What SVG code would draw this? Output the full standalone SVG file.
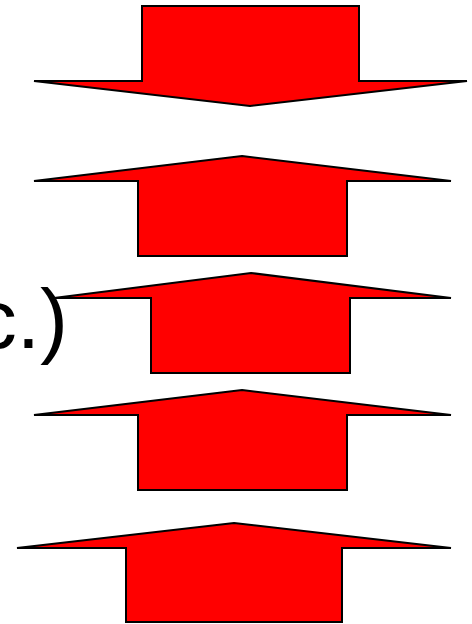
<svg xmlns="http://www.w3.org/2000/svg" width="472" height="624" viewBox="0 0 472 624">
<style>
.arrow{fill:#FF0000;stroke:#000;stroke-width:2;stroke-linejoin:miter}
.lbl{font-family:"Liberation Sans",Arial,sans-serif;font-size:84px;fill:#000}
</style>
<rect width="472" height="624" fill="#fff"/>
<g id="label"><text class="lbl" x="68" y="348" text-anchor="end">c.)</text></g>
<g id="arrow1"><polygon class="arrow" points="142,6 359,6 359,81 467,81 250,106 34,81 142,81"/></g>
<g id="arrow2"><polygon class="arrow" points="242,156 451,181 347,181 347,256 138,256 138,181 34,181"/></g>
<g id="arrow3"><polygon class="arrow" points="251,273 451,298 350,298 350,373 151,373 151,298 54,298"/></g>
<g id="arrow4"><polygon class="arrow" points="242,390 451,415 347,415 347,490 138,490 138,415 34,415"/></g>
<g id="arrow5"><polygon class="arrow" points="234,523 451,548 342,548 342,622 126,622 126,548 17,548"/></g>
<g id="connectors"></g>
</svg>
